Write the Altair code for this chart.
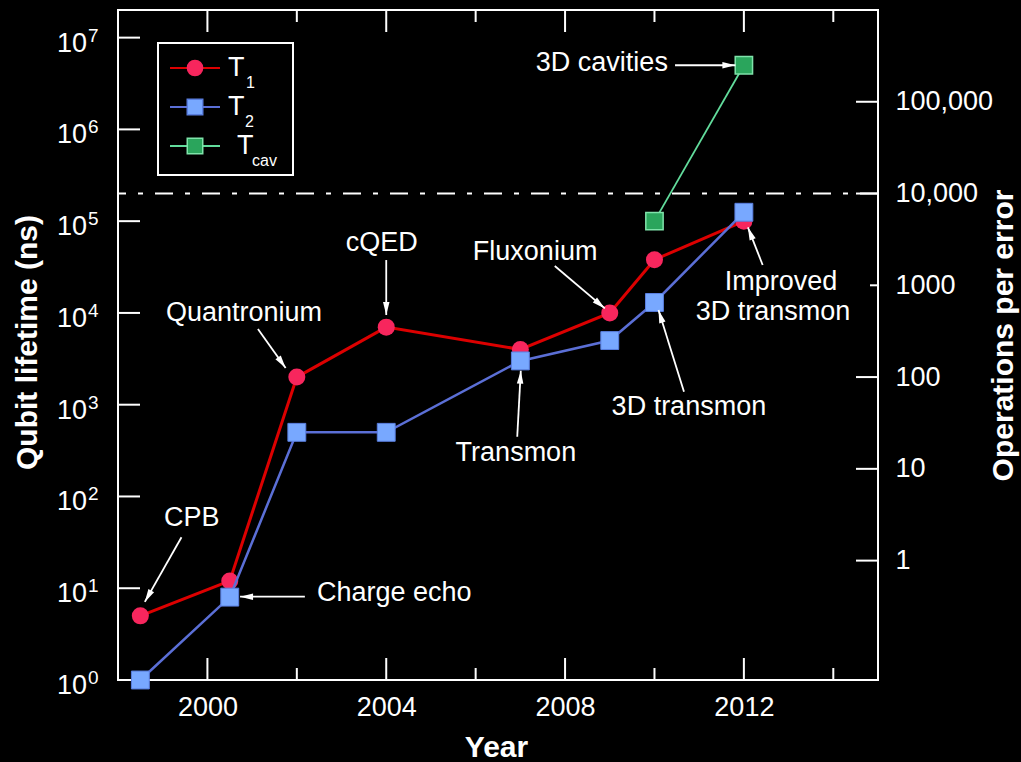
import math
import altair as alt
import pandas as pd

# Superconducting qubit coherence times (ns) by year
years = [1998.5, 2000.5, 2002.0, 2004.0, 2007.0, 2009.0, 2010.0, 2012.0]
t1_ns = [5, 12, 2000, 7000, 4000, 10000, 38000, 100000]
t2_ns = [1, 8, 500, 500, 3000, 5000, 13000, 125000]
cav_years = [2010.0, 2012.0]
cav_ns = [1e5, 5e6]

# Scales: operations per error = lifetime / gate time
X_DOMAIN = [1998, 2015]
Y_DOMAIN = [1, 2e7]
GATE_NS = 20
THRESHOLD_OPS = 10000

major_years = [2000, 2004, 2008, 2012]
minor_years = [2002, 2006, 2010, 2014]
decades = [0, 1, 2, 3, 4, 5, 6, 7]
ops_long = [1, 10, 100, 10000, 100000]
ops_short = [1000]

# Annotations: label, position (year, ns), alignment
ann_label = ["CPB", "Charge echo", "Quantronium", "cQED", "Transmon", "Fluxonium",
             "3D transmon", "Improved", "3D transmon", "3D cavities"]
ann_year = [1999.65, 2002.45, 2000.82, 2003.9, 2006.9, 2007.33, 2010.77, 2012.83, 2012.65, 2010.30]
ann_ns = [58, 8.9, 10000, 58000, 300, 46500, 950, 21900, 10300, 5.3e6]
ann_align = ["center", "left", "center", "center", "center", "center", "center", "center", "center", "right"]

# Arrows: tail (year, ns) -> tip (year, ns)
arr_from_year = [1999.42, 2002.18, 2001.13, 2004.0, 2006.93, 2007.77, 2010.66, 2012.42, 2010.46]
arr_from_ns = [36, 8.1, 6680, 37700, 448, 32500, 1386, 33300, 5.0e6]
arr_to_year = [1998.60, 2000.73, 2001.75, 2004.0, 2007.01, 2008.89, 2010.09, 2012.09, 2011.81]
arr_to_ns = [7.1, 8.1, 2510, 9500, 2346, 11200, 10760, 85700, 5.0e6]

W, H = 760, 670
FONT = "Liberation Sans"
WHITE = "#ffffff"
RED_LINE, RED_PT = "#dc0000", "#f7265d"
BLUE_LINE, BLUE_PT, BLUE_EDGE = "#5b6fd6", "#78a8ff", "#5a7fe0"
GREEN_LINE, GREEN_PT, GREEN_EDGE = "#62dc9c", "#2aa55c", "#7fe3aa"


def px(year):
    return (year - X_DOMAIN[0]) / (X_DOMAIN[1] - X_DOMAIN[0]) * W


def py(ns):
    return H - math.log10(ns) / math.log10(Y_DOMAIN[1]) * H


arrows = pd.DataFrame({"year": arr_from_year, "ns": arr_from_ns,
                       "tip_year": arr_to_year, "tip_ns": arr_to_ns})
arrows["ang"] = [
    math.degrees(math.atan2(px(x2) - px(x1), -(py(y2) - py(y1)))) % 360
    for x1, y1, x2, y2 in zip(arr_from_year, arr_from_ns, arr_to_year, arr_to_ns)
]
heads = pd.DataFrame({"year": arr_to_year, "ns": arr_to_ns, "ang": arrows["ang"]})

xs = alt.Scale(domain=X_DOMAIN, nice=False, zero=False)
ys = alt.Scale(type="log", domain=Y_DOMAIN, nice=False)


def X(field="year"):
    return alt.X(f"{field}:Q", scale=xs)


def Y(field="ns"):
    return alt.Y(f"{field}:Q", scale=ys)


t1 = pd.DataFrame({"year": years, "ns": t1_ns})
t2 = pd.DataFrame({"year": years, "ns": t2_ns})
cav = pd.DataFrame({"year": cav_years, "ns": cav_ns})

bottom_axis = alt.Axis(values=major_years, format="d", ticks=False, tickSize=0, domain=False,
                       grid=False, labelFontSize=27, labelPadding=27, labelBaseline="middle",
                       title="Year", titleFontSize=30, titleFontWeight="bold",
                       titleX=378, titleY=67, titleBaseline="middle", titleAlign="center")
left_axis = alt.Axis(labels=False, ticks=False, tickSize=0, domain=False, grid=False,
                     title="Qubit lifetime (ns)", titleFontSize=30, titleFontWeight="bold",
                     titleX=-91, titleY=332, titleAngle=270, titleBaseline="middle",
                     titleAlign="center")

# Series
t1_line = alt.Chart(t1).mark_line(color=RED_LINE, strokeWidth=3).encode(
    x=alt.X("year:Q", scale=xs, axis=bottom_axis),
    y=alt.Y("ns:Q", scale=ys, axis=left_axis),
)
t1_pts = alt.Chart(t1).mark_point(shape="circle", filled=True, size=290, color=RED_PT,
                                  opacity=1).encode(x=X(), y=Y())
t2_line = alt.Chart(t2).mark_line(color=BLUE_LINE, strokeWidth=2.5).encode(x=X(), y=Y())
t2_pts = alt.Chart(t2).mark_point(shape="square", filled=True, size=320, fill=BLUE_PT,
                                  stroke=BLUE_EDGE, strokeWidth=1, opacity=1).encode(x=X(), y=Y())
cav_line = alt.Chart(cav).mark_line(color=GREEN_LINE, strokeWidth=1.8).encode(x=X(), y=Y())
cav_pts = alt.Chart(cav).mark_point(shape="square", filled=True, size=300, fill=GREEN_PT,
                                    stroke=GREEN_EDGE, strokeWidth=1.5, opacity=1).encode(x=X(), y=Y())

# Fault-tolerance threshold line
threshold = alt.Chart(pd.DataFrame({"ns": [THRESHOLD_OPS * GATE_NS]})).mark_rule(
    color=WHITE, strokeWidth=2, strokeDash=[18, 12, 5, 12]).encode(y=Y())

# Inward ticks
left_ticks = alt.Chart(pd.DataFrame({"ns": [10 ** d for d in decades]})).mark_rule(
    color=WHITE, strokeWidth=2).encode(y=Y(), x=alt.value(0), x2=alt.value(22))
maj = pd.DataFrame({"year": major_years})
mnr = pd.DataFrame({"year": minor_years})
bottom_major = alt.Chart(maj).mark_rule(color=WHITE, strokeWidth=2).encode(
    x=X(), y=alt.value(H - 22), y2=alt.value(H))
bottom_minor = alt.Chart(mnr).mark_rule(color=WHITE, strokeWidth=2).encode(
    x=X(), y=alt.value(H - 12), y2=alt.value(H))
top_major = alt.Chart(maj).mark_rule(color=WHITE, strokeWidth=2).encode(
    x=X(), y=alt.value(0), y2=alt.value(22))
top_minor = alt.Chart(mnr).mark_rule(color=WHITE, strokeWidth=2).encode(
    x=X(), y=alt.value(0), y2=alt.value(12))

# Power-of-ten labels on the lifetime axis
pow_df = pd.DataFrame({"ns": [10 ** d for d in decades], "exp": [str(d) for d in decades]})
pow_base = alt.Chart(pow_df).mark_text(text="10", font=FONT, fontSize=27, color=WHITE,
                                       align="right", baseline="middle", dy=6).encode(
    y=Y(), x=alt.value(-31))
pow_exp = alt.Chart(pow_df).mark_text(font=FONT, fontSize=19, color=WHITE,
                                      align="left", baseline="middle", dy=-2).encode(
    y=Y(), x=alt.value(-30), text="exp:N")

# Annotation arrows and labels
arrow_lines = alt.Chart(arrows).mark_rule(color=WHITE, strokeWidth=1.8).encode(
    x=X(), y=Y(), x2="tip_year:Q", y2="tip_ns:Q")
arrow_heads = alt.Chart(heads).mark_point(shape="M0,0L0.5,2L-0.5,2Z", filled=True, size=169,
                                          color=WHITE, opacity=1).encode(
    x=X(), y=Y(), angle=alt.Angle("ang:Q", scale=None))
ann_df = pd.DataFrame({"label": ann_label, "year": ann_year, "ns": ann_ns, "align": ann_align})
ann_layers = []
for al in ["left", "center", "right"]:
    ann_layers.append(
        alt.Chart(ann_df[ann_df["align"] == al]).mark_text(
            font=FONT, fontSize=27, color=WHITE, align=al, baseline="middle").encode(
            x=X(), y=Y(), text="label:N"))

# Legend drawn in the upper-left corner
one = alt.Data(values=[{}])
legend = [
    alt.Chart(one).mark_rect(fill="black", stroke=WHITE, strokeWidth=2).encode(
        x=alt.value(40), x2=alt.value(175), y=alt.value(33), y2=alt.value(165)),
]
legend_rows = [
    (58, RED_LINE, "circle", RED_PT, RED_PT, 230, "T", 110, "1", 128),
    (97, BLUE_LINE, "square", BLUE_PT, BLUE_EDGE, 240, "T", 110, "2", 127),
    (136, GREEN_LINE, "square", GREEN_PT, GREEN_EDGE, 240, "T", 119, "cav", 134),
]
for ry, lc, shp, fc, ec, sz, main, mx, sub, sx in legend_rows:
    legend.append(alt.Chart(one).mark_rule(color=lc, strokeWidth=2.2).encode(
        x=alt.value(52), x2=alt.value(102), y=alt.value(ry)))
    legend.append(alt.Chart(one).mark_point(shape=shp, filled=True, size=sz, fill=fc,
                                            stroke=ec, strokeWidth=1.5, opacity=1).encode(
        x=alt.value(77), y=alt.value(ry)))
    legend.append(alt.Chart(one).mark_text(text=main, font=FONT, fontSize=27, color=WHITE,
                                           align="left", baseline="middle").encode(
        x=alt.value(mx), y=alt.value(ry)))
    legend.append(alt.Chart(one).mark_text(text=sub, font=FONT, fontSize=16, color=WHITE,
                                           align="left", baseline="middle").encode(
        x=alt.value(sx), y=alt.value(ry + 15)))

lifetime = alt.layer(
    t1_line, threshold, left_ticks, bottom_major, bottom_minor, top_major, top_minor,
    t1_pts, t2_line, t2_pts, cav_line, cav_pts,
    arrow_lines, arrow_heads, *ann_layers, pow_base, pow_exp, *legend,
)

# Operations-per-error axis on the right
ops_scale = alt.Scale(type="log", domain=[Y_DOMAIN[0] / GATE_NS, Y_DOMAIN[1] / GATE_NS], nice=False)
right_axis = alt.Axis(orient="right", values=ops_long + ops_short, ticks=False, tickSize=0,
                      domain=False, grid=False, labelFontSize=27, labelPadding=17,
                      labelAlign="left", labelBaseline="middle",
                      labelExpr="datum.value >= 10000 ? format(datum.value, ',') : format(datum.value, 'd')",
                      title="Operations per error", titleFontSize=30, titleFontWeight="bold",
                      titleX=125, titleY=325, titleAngle=270, titleBaseline="middle",
                      titleAlign="center")
ops_ticks_long = alt.Chart(pd.DataFrame({"ops": ops_long})).mark_rule(
    color=WHITE, strokeWidth=2).encode(
    y=alt.Y("ops:Q", scale=ops_scale, axis=right_axis), x=alt.value(W - 22), x2=alt.value(W))
ops_ticks_short = alt.Chart(pd.DataFrame({"ops": ops_short})).mark_rule(
    color=WHITE, strokeWidth=2).encode(
    y=alt.Y("ops:Q", scale=ops_scale), x=alt.value(W - 8), x2=alt.value(W))
ops = alt.layer(ops_ticks_long, ops_ticks_short)

chart = alt.layer(lifetime, ops).resolve_scale(y="independent").properties(
    width=W, height=H,
    padding={"left": 118, "top": 10, "right": 143, "bottom": 82},
    autosize=alt.AutoSizeParams(type="none"),
    background="black",
).configure_view(
    stroke=WHITE, strokeWidth=2,
).configure_axis(
    labelColor=WHITE, titleColor=WHITE, labelFont=FONT, titleFont=FONT,
).configure_text(font=FONT)

chart.save("out.html", embed_options={"renderer": "svg", "actions": False})
